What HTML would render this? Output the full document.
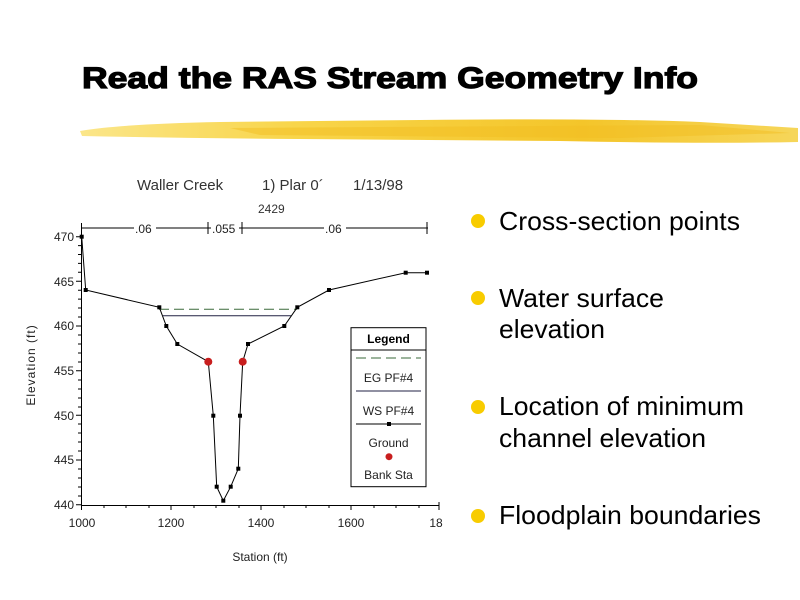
<!DOCTYPE html>
<html><head><style>body{margin:0;background:#fff}svg{display:block}</style></head><body>
<svg width="800" height="600" xmlns="http://www.w3.org/2000/svg" font-family="Liberation Sans, sans-serif">
<defs>
<linearGradient id="g" x1="0" x2="1" y1="0" y2="0">
<stop offset="0" stop-color="#fbe68a"/><stop offset="0.3" stop-color="#f8d54a"/><stop offset="0.7" stop-color="#f4c52a"/><stop offset="1" stop-color="#f6d65a"/>
</linearGradient>
</defs>
<text x="82" y="88" font-size="30" font-weight="bold" fill="#000" stroke="#000" stroke-width="1.2" textLength="616" lengthAdjust="spacingAndGlyphs">Read the RAS Stream Geometry Info</text>
<path d="M80,131 Q120,124 220,122 L420,120 Q600,118 700,122 L798,128 L798,142 Q700,144 560,141 L300,139 Q180,138 82,136 Z" fill="url(#g)"/>
<path d="M230,128 L700,125 L790,133 L620,138 L260,135 Z" fill="#f1be22" opacity="0.5"/>
<!-- chart -->
<text x="137" y="190" font-size="15" fill="#333">Waller Creek</text>
<text x="262" y="190" font-size="15" fill="#333">1) Plar 0´</text>
<text x="353" y="190" font-size="15" fill="#333">1/13/98</text>
<text x="258" y="213" font-size="12" fill="#333">2429</text>
<g stroke="#000" stroke-width="1" fill="none">
<line x1="81.5" y1="223" x2="81.5" y2="505"/>
<line x1="81" y1="505.5" x2="439" y2="505.5"/>
<line x1="439" y1="502" x2="439" y2="510"/>
<line x1="82" y1="228" x2="428" y2="228"/>
<line x1="208" y1="222" x2="208" y2="234"/><line x1="242" y1="222" x2="242" y2="234"/><line x1="427" y1="222" x2="427" y2="234"/>
</g>
<g fill="#fff"><rect x="134" y="222" width="22" height="12"/><rect x="211" y="222" width="28" height="12"/><rect x="324" y="222" width="22" height="12"/></g>
<g font-size="12" fill="#222"><text x="135" y="233">.06</text><text x="212" y="233">.055</text><text x="325" y="233">.06</text></g>
<g stroke="#000" stroke-width="1">
<path d="M76,236.7h5M76,281.3h5M76,326h5M76,370.7h5M76,415.3h5M76,460h5M76,504.7h5M78,245.6h3M78,254.5h3M78,263.4h3M78,272.3h3M78,290.2h3M78,299.1h3M78,308h3M78,317h3M78,335h3M78,344h3M78,353h3M78,362h3M78,380h3M78,389h3M78,398h3M78,407h3M78,424h3M78,433h3M78,442h3M78,451h3M78,469h3M78,478h3M78,487h3M78,496h3"/>
<path d="M81.5,505v5M126,505v3M171,505v5M216,505v3M261,505v5M306,505v3M351,505v5M396,505v3M104,505v3M149,505v3M194,505v3M239,505v3M284,505v3M329,505v3M374,505v3M419,505v3"/>
</g>
<g font-size="12" fill="#222" text-anchor="end">
<text x="74" y="241">470</text><text x="74" y="286">465</text><text x="74" y="330">460</text><text x="74" y="375">455</text><text x="74" y="420">450</text><text x="74" y="464">445</text><text x="74" y="509">440</text>
</g>
<g font-size="12" fill="#222" text-anchor="middle">
<text x="82" y="527">1000</text><text x="171" y="527">1200</text><text x="261" y="527">1400</text><text x="351" y="527">1600</text><text x="436" y="527">18</text>
<text x="260" y="561">Station (ft)</text>
</g>
<text transform="translate(35,365) rotate(-90)" font-size="12" fill="#222" text-anchor="middle" letter-spacing="1">Elevation (ft)</text>
<line x1="159" y1="309.3" x2="297" y2="309.3" stroke="#3a6a3a" stroke-dasharray="10,5"/>
<line x1="163" y1="315.7" x2="291" y2="315.7" stroke="#224"/>
<polyline fill="none" stroke="#000" points="81.7,236.7 85.7,290 159.3,307.3 166.3,326 177.3,344 208.3,361.7 213.3,415.7 216.7,486.7 223.3,500.7 230.7,486.7 238.3,468.7 240,415.7 242.7,361.7 248,344 284.3,326 297.3,307.3 329,290 405.7,272.7 427,272.7"/>
<g fill="#000">
<rect x="79.7" y="234.7" width="4" height="4"/><rect x="83.7" y="288" width="4" height="4"/><rect x="157.3" y="305.3" width="4" height="4"/><rect x="164.3" y="324" width="4" height="4"/><rect x="175.3" y="342" width="4" height="4"/><rect x="211.3" y="413.7" width="4" height="4"/><rect x="214.7" y="484.7" width="4" height="4"/><rect x="221.3" y="498.7" width="4" height="4"/><rect x="228.7" y="484.7" width="4" height="4"/><rect x="236.3" y="466.7" width="4" height="4"/><rect x="238" y="413.7" width="4" height="4"/><rect x="246" y="342" width="4" height="4"/><rect x="282.3" y="324" width="4" height="4"/><rect x="295.3" y="305.3" width="4" height="4"/><rect x="327" y="288" width="4" height="4"/><rect x="403.7" y="270.7" width="4" height="4"/><rect x="425" y="270.7" width="4" height="4"/>
</g>
<circle cx="208.3" cy="361.7" r="4" fill="#c81e1e"/><circle cx="242.7" cy="361.7" r="4" fill="#c81e1e"/>
<rect x="351" y="327.7" width="75" height="159" fill="#fff" stroke="#000"/>
<line x1="351" y1="350" x2="426" y2="350" stroke="#000"/>
<text x="388.5" y="343" font-size="12" font-weight="bold" text-anchor="middle">Legend</text>
<line x1="356" y1="358" x2="421" y2="358" stroke="#3a6a3a" stroke-dasharray="10,5"/>
<text x="388.5" y="382" font-size="12" text-anchor="middle" fill="#222">EG PF#4</text>
<line x1="356" y1="391" x2="421" y2="391" stroke="#224"/>
<text x="388.5" y="415" font-size="12" text-anchor="middle" fill="#222">WS PF#4</text>
<line x1="356" y1="424" x2="421" y2="424" stroke="#000"/><rect x="387" y="422" width="4" height="4"/>
<text x="388.5" y="447" font-size="12" text-anchor="middle" fill="#222">Ground</text>
<circle cx="389" cy="456.7" r="3.5" fill="#c81e1e"/>
<text x="388.5" y="479" font-size="12" text-anchor="middle" fill="#222">Bank Sta</text>
<!-- bullets -->
<g fill="#f8cc00"><circle cx="478" cy="221" r="7"/><circle cx="478" cy="298" r="7"/><circle cx="478" cy="407" r="7"/><circle cx="478" cy="516" r="7"/></g>
<g font-size="26" fill="#000">
<text x="499" y="230" textLength="241" lengthAdjust="spacingAndGlyphs">Cross-section points</text>
<text x="499" y="307" textLength="165" lengthAdjust="spacingAndGlyphs">Water surface</text><text x="499" y="338" textLength="106" lengthAdjust="spacingAndGlyphs">elevation</text>
<text x="499" y="415" textLength="245" lengthAdjust="spacingAndGlyphs">Location of minimum</text><text x="499" y="447" textLength="207" lengthAdjust="spacingAndGlyphs">channel elevation</text>
<text x="499" y="524" textLength="262" lengthAdjust="spacingAndGlyphs">Floodplain boundaries</text>
</g>
</svg>
</body></html>
